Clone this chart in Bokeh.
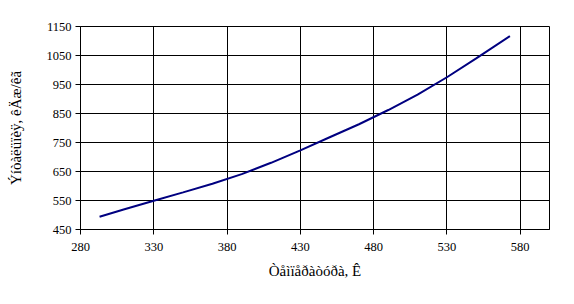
from bokeh.plotting import figure
from bokeh.embed import file_html
from bokeh.resources import INLINE
from bokeh.models import Range1d, FixedTicker

temperature_K = [293, 310, 330, 350, 370, 390, 410, 430, 450, 470, 490, 510, 530, 550, 573]
enthalpy = [494, 520, 549, 578, 608, 641, 680, 723, 768, 813, 862, 915, 975, 1040, 1117]
x_ticks = [280, 330, 380, 430, 480, 530, 580]
y_ticks = [450, 550, 650, 750, 850, 950, 1050, 1150]
x_title = "Òåìïåðàòóðà, Ê"
y_title = "Ýíòàëüïèÿ, êÄæ/êã"

FONT = "Liberation Serif"

p = figure(width=574, height=304, output_backend="svg", toolbar_location=None,
           x_range=Range1d(280, 600), y_range=Range1d(450, 1150),
           min_border_left=80, min_border_right=25, min_border_top=26, min_border_bottom=75)
p.background_fill_color = "white"
p.border_fill_color = "white"
p.outline_line_color = "black"
p.outline_line_width = 1

p.line(temperature_K, enthalpy, line_color="#000080", line_width=2)

for ax, ticks in ((p.xaxis, x_ticks), (p.yaxis, y_ticks)):
    ax.ticker = FixedTicker(ticks=ticks)
    ax.major_label_text_font = FONT
    ax.major_label_text_font_size = "12.5px"
    ax.major_label_text_color = "black"
    ax.axis_label_text_font = FONT
    ax.axis_label_text_font_size = "15px"
    ax.axis_label_text_font_style = "normal"
    ax.axis_label_text_color = "black"
    ax.minor_tick_line_color = None
    ax.major_tick_out = 5
    ax.major_tick_in = 0
    ax.axis_line_color = "black"
    ax.major_tick_line_color = "black"

p.xaxis.axis_label = x_title
p.yaxis.axis_label = y_title
p.xaxis.major_label_standoff = 8
p.xaxis.axis_label_standoff = 9
p.yaxis.major_label_standoff = 4
p.yaxis.axis_label_standoff = 20

p.xgrid.ticker = FixedTicker(ticks=x_ticks)
p.ygrid.ticker = FixedTicker(ticks=y_ticks)
p.grid.grid_line_color = "black"
p.grid.grid_line_width = 1
p.grid.grid_line_alpha = 1

open("out.html", "w").write(file_html(p, INLINE))
